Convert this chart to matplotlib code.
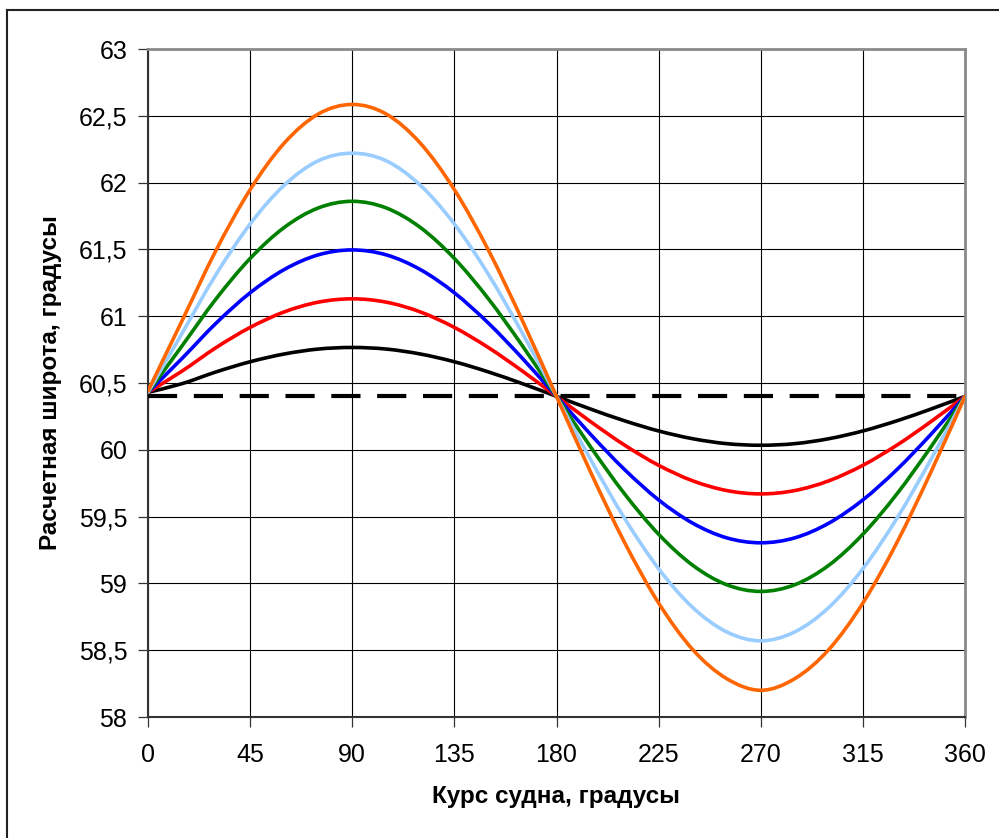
import matplotlib
matplotlib.use("Agg")
import matplotlib.pyplot as plt
from matplotlib.lines import Line2D
from matplotlib.path import Path
from matplotlib.patches import PathPatch

plt.rcParams['font.family'] = ['Liberation Sans', 'DejaVu Sans']

course = list(range(0, 361, 15))

black = [60.43, 60.495, 60.583, 60.659, 60.717, 60.754, 60.766, 60.754, 60.717, 60.659, 60.583, 60.495, 60.400,
         60.305, 60.217, 60.141, 60.083, 60.046, 60.034, 60.046, 60.083, 60.141, 60.217, 60.305, 60.400]
red = [60.43, 60.589, 60.765, 60.916, 61.032, 61.105, 61.130, 61.105, 61.032, 60.916, 60.765, 60.589, 60.400,
       60.211, 60.035, 59.884, 59.768, 59.695, 59.670, 59.695, 59.768, 59.884, 60.035, 60.211, 60.400]
blue = [60.43, 60.684, 60.948, 61.175, 61.349, 61.459, 61.496, 61.459, 61.349, 61.175, 60.948, 60.684, 60.400,
        60.116, 59.852, 59.625, 59.451, 59.341, 59.304, 59.341, 59.451, 59.625, 59.852, 60.116, 60.400]
green = [60.43, 60.778, 61.130, 61.432, 61.664, 61.810, 61.860, 61.810, 61.664, 61.432, 61.130, 60.778, 60.400,
         60.022, 59.670, 59.368, 59.136, 58.990, 58.940, 58.990, 59.136, 59.368, 59.670, 60.022, 60.400]
lightblue = [60.43, 60.872, 61.313, 61.690, 61.980, 62.163, 62.220, 62.163, 61.980, 61.690, 61.313, 60.872, 60.400,
             59.928, 59.487, 59.110, 58.820, 58.637, 58.570, 58.637, 58.820, 59.110, 59.487, 59.928, 60.400]
orange = [60.44, 60.966, 61.494, 61.947, 62.295, 62.513, 62.585, 62.513, 62.295, 61.947, 61.494, 60.966, 60.400,
          59.834, 59.306, 58.853, 58.505, 58.287, 58.200, 58.287, 58.505, 58.853, 59.306, 59.834, 60.400]
base_lat = 60.4

series = [black, red, blue, green, lightblue, orange]
colors = ['#000000', '#ff0000', '#0000ff', '#008000', '#99ccff', '#ff6600']

xticks = list(range(0, 361, 45))
yticks = [58, 58.5, 59, 59.5, 60, 60.5, 61, 61.5, 62, 62.5, 63]
ytick_labels = ['58', '58,5', '59', '59,5', '60', '60,5', '61', '61,5', '62', '62,5', '63']


def smooth_path(xs, ys):
    """Bezier path through the data points (like a spreadsheet 'smoothed line')."""
    n = len(xs)
    verts = [(xs[0], ys[0])]
    codes = [Path.MOVETO]
    for i in range(n - 1):
        x0, y0 = xs[max(i - 1, 0)], ys[max(i - 1, 0)]
        x1, y1 = xs[i], ys[i]
        x2, y2 = xs[i + 1], ys[i + 1]
        x3, y3 = xs[min(i + 2, n - 1)], ys[min(i + 2, n - 1)]
        c1 = (x1 + (x2 - x0) / 6.0, y1 + (y2 - y0) / 6.0)
        c2 = (x2 - (x3 - x1) / 6.0, y2 - (y3 - y1) / 6.0)
        verts += [c1, c2, (x2, y2)]
        codes += [Path.CURVE4] * 3
    return Path(verts, codes)


fig = plt.figure(figsize=(9.99, 8.38), dpi=100)
ax = fig.add_axes([148 / 999, 1 - 717 / 838, (965 - 148) / 999, (717 - 49) / 838])

for ys, c in zip(series, colors):
    ax.add_patch(PathPatch(smooth_path(course, ys), facecolor='none', edgecolor=c,
                           lw=2.6, capstyle='round', joinstyle='round', zorder=3))
ax.plot([0, 360], [base_lat, base_lat], color='black', lw=3.0, dashes=(7, 4), zorder=4)

ax.set_xlim(0, 360)
ax.set_ylim(58, 63)
ax.set_xticks(xticks)
ax.set_yticks(yticks)
ax.set_yticklabels(ytick_labels)
ax.grid(True, color='black', lw=0.8)
ax.set_axisbelow(True)
ax.tick_params(direction='out', length=7, width=0.9, labelsize=18, color='#333333')
ax.tick_params(axis='y', pad=8)
ax.tick_params(axis='x', pad=12)
for s in ['top', 'right']:
    ax.spines[s].set_color('#8a8a8a')
    ax.spines[s].set_linewidth(2)
for s in ['left', 'bottom']:
    ax.spines[s].set_color('#333333')
    ax.spines[s].set_linewidth(1.5)

ax.set_xlabel('Курс судна, градусы', fontsize=17.5, fontweight='bold', labelpad=13)
ax.set_ylabel('Расчетная широта, градусы', fontsize=17.5, fontweight='bold', labelpad=12)

fig.add_artist(Line2D([7 / 999, 1], [1 - 10 / 838, 1 - 10 / 838], color='#222222', lw=1.5))
fig.add_artist(Line2D([7 / 999, 7 / 999], [0, 1 - 10 / 838], color='#222222', lw=1.5))

fig.savefig('out.png', dpi=100)
